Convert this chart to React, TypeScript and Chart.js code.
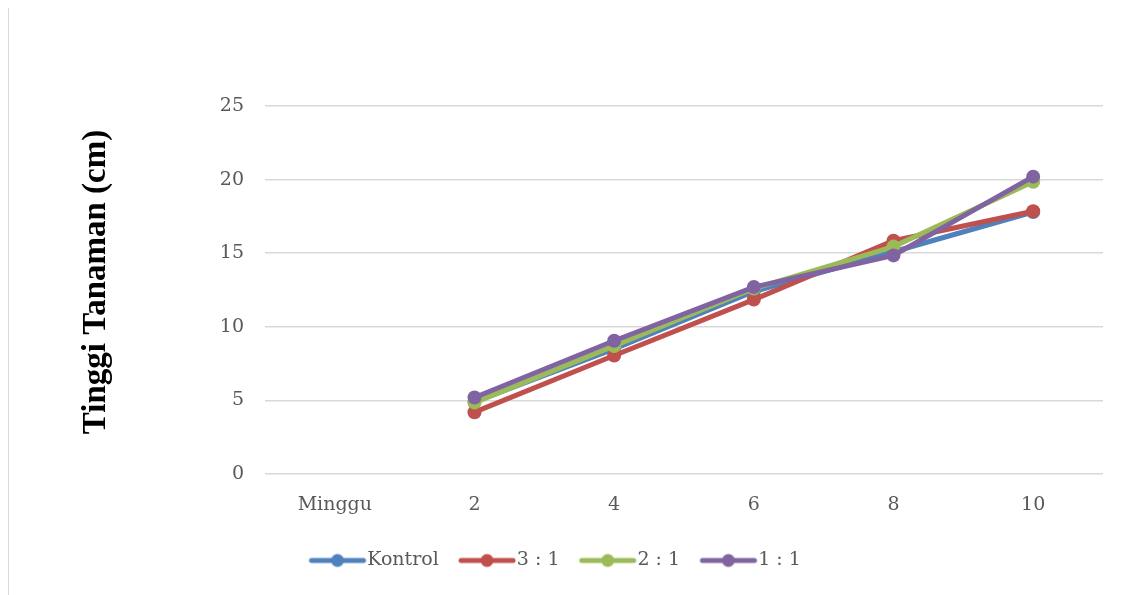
import React, { useEffect, useRef } from "react";
import { Chart, registerables } from "chart.js";

Chart.register(...registerables);

const categories = ["Minggu", "2", "4", "6", "8", "10"];
const kontrol = [null, 4.9, 8.5, 12.4, 15.1, 17.8];
const ratio31 = [null, 4.2, 8.05, 11.85, 15.85, 17.85];
const ratio21 = [null, 4.85, 8.7, 12.6, 15.45, 19.85];
const ratio11 = [null, 5.2, 9.05, 12.7, 14.85, 20.2];
const seriesNames = ["Kontrol", "3 : 1", "2 : 1", "1 : 1"];
const seriesColors = ["#4F81BD", "#C0504D", "#9BBB59", "#8064A2"];
const yTitle = "Tinggi Tanaman (cm)";

const FONT = "'DejaVu Serif', serif";

function legendIcon(color: string): HTMLCanvasElement {
  const c = document.createElement("canvas");
  c.width = 80;
  c.height = 20;
  const ctx = c.getContext("2d")!;
  ctx.strokeStyle = color;
  ctx.lineWidth = 5;
  ctx.lineCap = "round";
  ctx.beginPath();
  ctx.moveTo(17, 10);
  ctx.lineTo(69, 10);
  ctx.stroke();
  ctx.fillStyle = color;
  ctx.beginPath();
  ctx.arc(43, 10, 6.5, 0, Math.PI * 2);
  ctx.fill();
  return c;
}

const yTitlePlugin = {
  id: "yTitlePlugin",
  afterDraw(chart: any) {
    const ctx = chart.ctx;
    ctx.save();
    ctx.translate(87, 277);
    ctx.rotate(-Math.PI / 2);
    ctx.font = "bold 33px 'Liberation Serif', 'Times New Roman', serif";
    ctx.fillStyle = "#000000";
    ctx.textAlign = "center";
    ctx.textBaseline = "middle";
    ctx.fillText(yTitle, 0, 0);
    ctx.restore();
  },
};

export default function App() {
  const ref = useRef<HTMLCanvasElement | null>(null);
  useEffect(() => {
    if (!ref.current) return;
    const all = [kontrol, ratio31, ratio21, ratio11];
    const icons = seriesColors.map(legendIcon);
    const chart = new Chart(ref.current, {
      type: "line",
      plugins: [yTitlePlugin],
      data: {
        labels: categories,
        datasets: all.map((d, i) => ({
          label: seriesNames[i],
          data: d,
          borderColor: seriesColors[i],
          backgroundColor: seriesColors[i],
          borderWidth: 5,
          pointStyle: "circle",
          pointRadius: 7,
          pointHoverRadius: 7,
          pointBorderWidth: 0,
          order: 4 - i,
          tension: 0,
        })) as any,
      },
      options: {
        animation: false,
        responsive: false,
        layout: { padding: { top: 101, right: 32, bottom: 15, left: 0 } },
        plugins: {
          tooltip: { enabled: false },
          legend: {
            position: "bottom",
            labels: {
              usePointStyle: true,
              pointStyleWidth: 46.5,
              padding: 22,
              color: "#595959",
              font: { family: FONT, size: 19 },
              sort: (a: any, b: any) => a.datasetIndex - b.datasetIndex,
              generateLabels: (ch: any) =>
                ch.data.datasets.map((ds: any, i: number) => ({
                  text: ds.label,
                  fillStyle: seriesColors[i],
                  strokeStyle: seriesColors[i],
                  lineWidth: 0,
                  pointStyle: icons[i],
                  datasetIndex: i,
                  hidden: false,
                  fontColor: "#595959",
                })),
            },
          },
        },
        scales: {
          x: {
            offset: true,
            grid: { display: false },
            border: { display: false },
            ticks: { color: "#595959", font: { family: FONT, size: 19 }, padding: 12 },
            afterFit: (s: any) => {
              s.height = 55;
            },
          },
          y: {
            min: 0,
            max: 25,
            ticks: { stepSize: 5, color: "#595959", font: { family: FONT, size: 19 }, padding: 21 },
            grid: { color: "#d9d9d9", lineWidth: 1.5, drawTicks: false },
            border: { display: false },
            afterFit: (s: any) => {
              s.width = 256;
            },
          },
        },
      },
    });
    return () => chart.destroy();
  }, []);
  return (
    <div
      style={{
        marginTop: -4,
        width: 1127,
        height: 591,
        borderLeft: "1px solid #d9d9d9",
        borderTop: "1px solid #d9d9d9",
        boxSizing: "border-box",
        overflow: "hidden",
      }}
    >
      <canvas ref={ref} width={1126} height={590} style={{ display: "block" }} />
    </div>
  );
}
